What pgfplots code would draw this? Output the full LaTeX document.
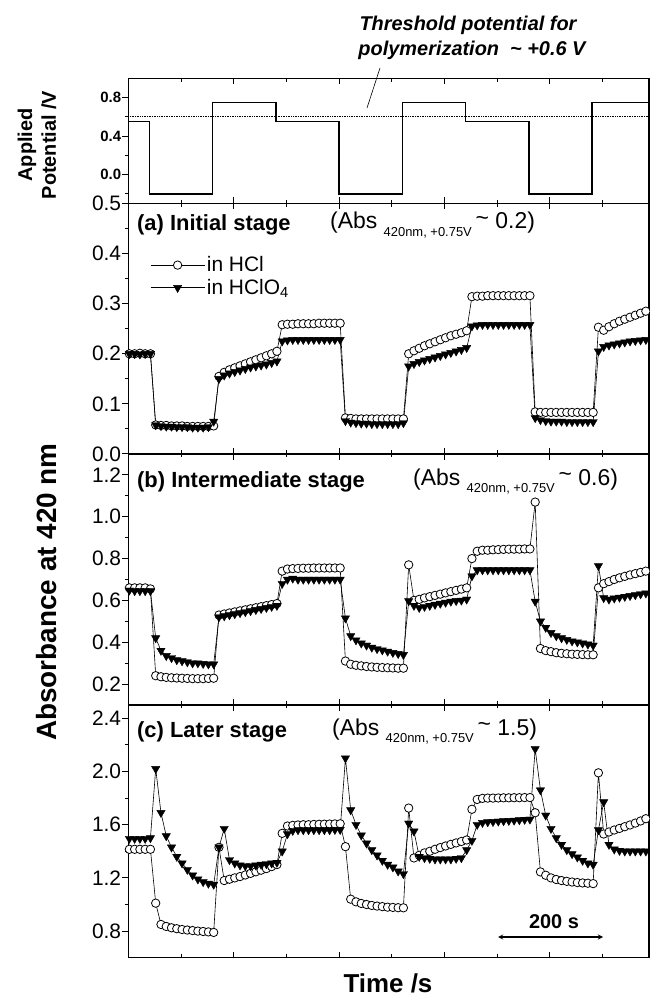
\documentclass[border=0pt]{standalone}
\usepackage{fontspec}
\setmainfont{Liberation Sans}
\usepackage{pgfplots}
\usepackage{pgfplotstable}
\pgfplotsset{compat=1.18}

\pgfplotstableread{
t ah ap bh bp ch cp
2 0.200 0.200 0.660 0.648 1.415 1.495
12 0.200 0.200 0.660 0.645 1.415 1.495
22 0.201 0.199 0.660 0.645 1.415 1.495
32 0.200 0.200 0.660 0.645 1.415 1.495
42 0.200 0.200 0.655 0.645 1.415 1.500
52 0.058 0.058 0.240 0.420 1.010 2.020
62 0.057 0.056 0.235 0.360 0.850 1.690
72 0.057 0.055 0.232 0.335 0.835 1.515
82 0.056 0.055 0.230 0.325 0.825 1.430
92 0.056 0.054 0.229 0.315 0.818 1.360
102 0.056 0.054 0.228 0.310 0.812 1.310
112 0.055 0.054 0.227 0.305 0.808 1.262
122 0.055 0.053 0.226 0.300 0.804 1.220
132 0.055 0.053 0.226 0.300 0.800 1.190
142 0.055 0.053 0.226 0.297 0.797 1.170
152 0.055 0.054 0.227 0.295 0.794 1.158
162 0.056 0.065 0.228 0.295 0.790 1.150
172 0.155 0.150 0.530 0.520 1.430 1.430
182 0.163 0.157 0.535 0.525 1.180 1.570
192 0.168 0.161 0.540 0.530 1.190 1.335
202 0.172 0.164 0.545 0.535 1.200 1.310
212 0.176 0.167 0.550 0.540 1.210 1.295
222 0.180 0.170 0.555 0.545 1.222 1.290
232 0.184 0.173 0.560 0.550 1.234 1.290
242 0.188 0.175 0.565 0.555 1.246 1.295
252 0.192 0.177 0.570 0.560 1.258 1.300
262 0.196 0.179 0.575 0.565 1.270 1.305
272 0.200 0.182 0.580 0.570 1.285 1.310
282 0.205 0.185 0.585 0.575 1.300 1.315
292 0.258 0.225 0.740 0.680 1.535 1.400
302 0.259 0.227 0.750 0.700 1.590 1.530
312 0.259 0.228 0.752 0.705 1.595 1.555
322 0.260 0.228 0.753 0.700 1.598 1.560
332 0.260 0.228 0.754 0.700 1.600 1.560
342 0.260 0.228 0.754 0.700 1.600 1.560
352 0.260 0.228 0.755 0.700 1.602 1.560
362 0.261 0.228 0.755 0.700 1.603 1.560
372 0.261 0.228 0.755 0.700 1.604 1.560
382 0.261 0.228 0.755 0.700 1.605 1.560
392 0.261 0.228 0.755 0.700 1.606 1.562
402 0.261 0.228 0.755 0.700 1.607 1.562
412 0.072 0.066 0.310 0.515 1.435 2.100
422 0.071 0.063 0.295 0.430 1.040 1.710
432 0.070 0.062 0.290 0.410 1.020 1.600
442 0.070 0.061 0.287 0.395 1.008 1.520
452 0.070 0.061 0.284 0.385 1.000 1.460
462 0.070 0.060 0.282 0.375 0.993 1.410
472 0.070 0.060 0.280 0.368 0.988 1.370
482 0.070 0.060 0.279 0.362 0.984 1.330
492 0.070 0.060 0.278 0.356 0.980 1.300
502 0.070 0.060 0.277 0.350 0.978 1.280
512 0.070 0.060 0.276 0.345 0.976 1.250
522 0.070 0.062 0.276 0.340 0.975 1.230
532 0.200 0.175 0.770 0.597 1.725 1.610
542 0.206 0.180 0.600 0.575 1.350 1.550
552 0.211 0.184 0.605 0.565 1.370 1.360
562 0.216 0.187 0.612 0.570 1.388 1.350
572 0.220 0.190 0.618 0.575 1.400 1.345
582 0.224 0.193 0.624 0.580 1.415 1.340
592 0.228 0.196 0.630 0.585 1.428 1.340
602 0.232 0.199 0.636 0.590 1.440 1.340
612 0.236 0.202 0.642 0.595 1.452 1.340
622 0.239 0.205 0.648 0.598 1.463 1.345
632 0.242 0.208 0.654 0.600 1.474 1.350
642 0.246 0.212 0.660 0.605 1.485 1.410
652 0.314 0.255 0.800 0.716 1.716 1.480
662 0.315 0.257 0.835 0.745 1.790 1.600
672 0.315 0.258 0.840 0.745 1.798 1.615
682 0.316 0.258 0.840 0.745 1.800 1.620
692 0.316 0.258 0.842 0.745 1.800 1.622
702 0.316 0.258 0.843 0.745 1.801 1.625
712 0.316 0.258 0.844 0.745 1.802 1.628
722 0.316 0.258 0.845 0.745 1.802 1.630
732 0.316 0.258 0.845 0.745 1.803 1.632
742 0.316 0.258 0.845 0.745 1.803 1.635
752 0.316 0.258 0.846 0.745 1.804 1.638
762 0.316 0.258 0.846 0.745 1.804 1.640
772 0.084 0.072 1.070 0.595 1.690 2.170
782 0.083 0.068 0.370 0.500 1.245 1.860
792 0.083 0.066 0.360 0.470 1.220 1.670
802 0.083 0.065 0.355 0.445 1.200 1.570
812 0.083 0.065 0.350 0.430 1.188 1.500
822 0.083 0.065 0.347 0.420 1.180 1.450
832 0.083 0.064 0.345 0.412 1.174 1.410
842 0.083 0.064 0.343 0.405 1.169 1.380
852 0.083 0.064 0.342 0.400 1.165 1.355
862 0.083 0.064 0.341 0.395 1.162 1.330
872 0.083 0.064 0.340 0.390 1.160 1.310
882 0.083 0.064 0.340 0.385 1.157 1.300
892 0.253 0.205 0.660 0.765 1.990 1.560
902 0.247 0.214 0.680 0.612 1.530 1.770
912 0.254 0.217 0.690 0.605 1.545 1.450
922 0.260 0.219 0.700 0.610 1.560 1.415
932 0.265 0.221 0.708 0.614 1.572 1.405
942 0.269 0.223 0.715 0.618 1.585 1.400
952 0.273 0.225 0.722 0.622 1.598 1.400
962 0.277 0.226 0.728 0.626 1.612 1.400
972 0.281 0.227 0.734 0.630 1.628 1.400
982 0.285 0.228 0.740 0.634 1.645 1.400
}\data

\pgfplotsset{
  panel/.style={
    scale only axis, width=520.7bp, anchor=south west,
    xmin=0, xmax=988,
    xtick={0,200,400,600,800}, minor xtick={100,300,500,700,900},
    xticklabels={},
    xtick pos=both, ytick pos=left,
    xtick align=inside, ytick align=outside,
    major tick length=6bp, minor tick length=3.5bp,
    axis line style={line width=1.3bp},
    every tick/.style={line width=1bp, black},
    scaled y ticks=false,
    minor y tick num=1,
    /pgf/number format/assume math mode=true,
    yticklabel style={/pgf/number format/fixed, /pgf/number format/fixed zerofill,
      /pgf/number format/precision=1, font=\fontsize{21}{21}\selectfont, inner sep=1bp},
  },
  hcl/.style={black, line width=0.6bp, mark=*, mark size=4.2bp,
    mark options={fill=white, draw=black, line width=0.8bp}},
  hclo/.style={black, line width=0.6bp, mark=triangle*, mark size=4.8bp,
    mark options={rotate=180, fill=black, draw=black, line width=0.4bp}},
}

\begin{document}
\begin{tikzpicture}[x=1bp,y=1bp]
\path[use as bounding box] (0,0) rectangle (650,996);

% potential panel
\begin{axis}[panel, at={(128.3bp,792.5bp)}, height=125.2bp,
  ymin=-0.3, ymax=1.0, ytick={0,0.4,0.8}, minor ytick={-0.2,0.2,0.6},
  yticklabel style={font=\bfseries\fontsize{15}{15}\selectfont}]
  \addplot[const plot, black, line width=1.3bp] coordinates {
    (0,0.55) (40,-0.2) (160,0.75) (280,0.55) (400,-0.2) (520,0.75) (640,0.55) (760,-0.2) (880,0.75) (988,0.75)};
  \addplot[black, densely dotted, line width=0.7bp] coordinates {(0,0.6) (988,0.6)};
\end{axis}

% panel a
\begin{axis}[panel, at={(128.3bp,542bp)}, height=250.5bp,
  ymin=0, ymax=0.5, ytick={0,0.1,0.2,0.3,0.4,0.5},
  legend style={at={(0.04,0.80)}, anchor=north west, draw=none, fill=none,
    font=\fontsize{21}{21}\selectfont, row sep=2bp, inner sep=1bp},
  legend cell align=left,
  legend image code/.code={\draw[#1, mark repeat=2, mark phase=2] plot coordinates {(0bp,0bp) (27bp,0bp) (54bp,0bp)};}]
  \addplot[hcl] table[x=t, y=ah] {\data};
  \addplot[hclo] table[x=t, y=ap] {\data};
  \legend{in HCl, in HClO\textsubscript{4}}
\end{axis}

% panel b
\begin{axis}[panel, at={(128.3bp,291bp)}, height=251bp,
  ymin=0.1, ymax=1.3, ytick={0.2,0.4,0.6,0.8,1.0,1.2}]
  \addplot[hcl] table[x=t, y=bh] {\data};
  \addplot[hclo] table[x=t, y=bp] {\data};
\end{axis}

% panel c
\begin{axis}[panel, at={(128.3bp,38.3bp)}, height=252.7bp,
  ymin=0.6, ymax=2.5, ytick={0.8,1.2,1.6,2.0,2.4}]
  \addplot[hcl] table[x=t, y=ch] {\data};
  \addplot[hclo] table[x=t, y=cp] {\data};
\end{axis}

% annotations
\node[font=\bfseries\itshape\fontsize{20}{20}\selectfont, inner sep=0] at (468,971) {Threshold potential for};
\node[font=\bfseries\itshape\fontsize{20}{20}\selectfont, inner sep=0] at (472,946) {polymerization\ \ \textasciitilde\ +0.6 V};
\draw[line width=0.6bp] (380,928) -- (367,888);

\node[rotate=90, font=\bfseries\fontsize{20}{24}\selectfont, align=center, inner sep=0] at (37,851) {Applied\\Potential /V};
\node[rotate=90, font=\bfseries\fontsize{28}{28}\selectfont, inner sep=0] at (47,404) {Absorbance at 420 nm};
\node[font=\bfseries\fontsize{26}{26}\selectfont, inner sep=0] at (388,13) {Time /s};

\node[anchor=west, font=\bfseries\fontsize{22}{22}\selectfont, inner sep=0] at (137,771) {(a) Initial stage};
\node[anchor=west, font=\fontsize{23}{23}\selectfont, inner sep=0] at (330,771) {(Abs \raisebox{-0.6ex}{\fontsize{13}{13}\selectfont 420nm, +0.75V}\,\raisebox{0.3ex}{\textasciitilde}\ 0.2)};
\node[anchor=west, font=\bfseries\fontsize{22}{22}\selectfont, inner sep=0] at (137,514.3) {(b) Intermediate stage};
\node[anchor=west, font=\fontsize{23}{23}\selectfont, inner sep=0] at (413,514.3) {(Abs \raisebox{-0.6ex}{\fontsize{13}{13}\selectfont 420nm, +0.75V}\,\raisebox{0.3ex}{\textasciitilde}\ 0.6)};
\node[anchor=west, font=\bfseries\fontsize{22}{22}\selectfont, inner sep=0] at (137,264.3) {(c) Later stage};
\node[anchor=west, font=\fontsize{23}{23}\selectfont, inner sep=0] at (332,264.3) {(Abs \raisebox{-0.6ex}{\fontsize{13}{13}\selectfont 420nm, +0.75V}\,\raisebox{0.3ex}{\textasciitilde}\ 1.5)};

\node[font=\bfseries\fontsize{20}{20}\selectfont, inner sep=0] at (554,74) {200 s};
\draw[<->, >=stealth, line width=1.3bp] (498,59) -- (603,59);
\end{tikzpicture}
\end{document}
